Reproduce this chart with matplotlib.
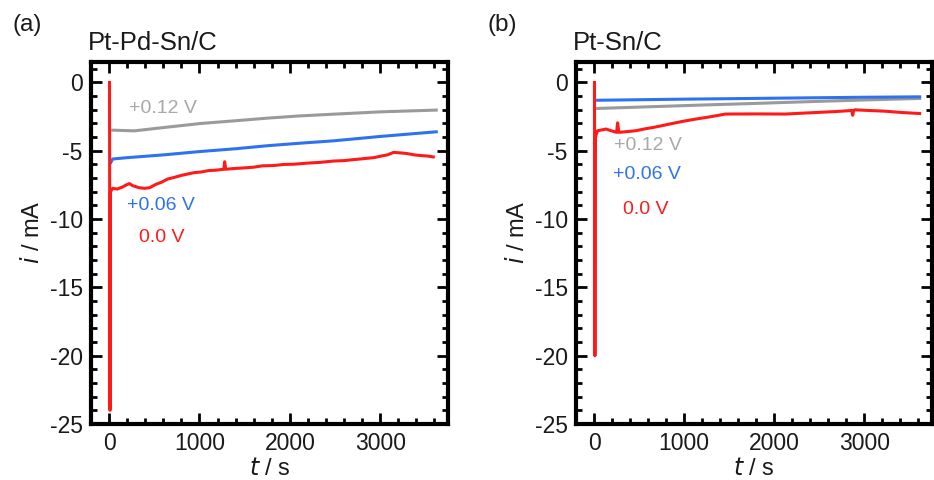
import numpy as np
import matplotlib.pyplot as plt
from matplotlib.ticker import MultipleLocator

plt.rcParams['font.family'] = ['Liberation Sans', 'DejaVu Sans']
plt.rcParams['axes.unicode_minus'] = False

# (a) Pt-Pd-Sn/C, chronoamperometry at three potentials
t_a_00 = [5, 10, 15, 40, 90, 150, 190, 225, 260, 330, 390, 450, 520, 580, 647, 720, 800, 870,
          941, 1020, 1100, 1180, 1270, 1279, 1290, 1380, 1500, 1600, 1700, 1820, 1933, 2050,
          2200, 2330, 2484, 2600, 2700, 2780, 2852, 2930, 3000, 3080, 3146, 3220, 3293, 3380,
          3450, 3520, 3587]
i_a_00 = [0.0, -24.0, -8.0, -7.75, -7.8, -7.65, -7.5, -7.4, -7.55, -7.7, -7.75, -7.7, -7.45,
          -7.3, -7.07, -6.95, -6.8, -6.7, -6.6, -6.55, -6.45, -6.42, -6.35, -5.8, -6.35, -6.3,
          -6.25, -6.2, -6.1, -6.08, -6.0, -5.98, -5.9, -5.85, -5.75, -5.72, -5.65, -5.6, -5.55,
          -5.5, -5.4, -5.3, -5.12, -5.15, -5.2, -5.3, -5.35, -5.38, -5.45]

t_a_006 = [20, 40, 206, 600, 1014, 1400, 1750, 2100, 2484, 3000, 3620]
i_a_006 = [-5.85, -5.6, -5.5, -5.3, -5.05, -4.85, -4.63, -4.45, -4.27, -3.95, -3.61]

t_a_012 = [40, 279, 600, 1014, 1400, 1750, 2100, 2484, 3000, 3620]
i_a_012 = [-3.49, -3.54, -3.3, -3.0, -2.8, -2.61, -2.45, -2.32, -2.15, -2.02]

# (b) Pt-Sn/C
t_b_00 = [5, 10, 15, 40, 133, 200, 250, 262, 275, 360, 464, 560, 650, 740, 832, 980, 1127,
          1300, 1459, 1800, 2122, 2300, 2490, 2700, 2860, 2870, 2880, 2895, 3050, 3227, 3420, 3613]
i_b_00 = [0.0, -20.0, -4.0, -3.53, -3.41, -3.55, -3.65, -2.95, -3.65, -3.6, -3.53, -3.4,
          -3.3, -3.18, -3.05, -2.85, -2.68, -2.5, -2.31, -2.3, -2.31, -2.25, -2.19, -2.12,
          -2.05, -2.4, -2.05, -2.0, -2.05, -2.1, -2.2, -2.27]

t_b_006 = [40, 1000, 2000, 3000, 3613]
i_b_006 = [-1.3, -1.22, -1.15, -1.08, -1.05]

t_b_012 = [40, 600, 1200, 1753, 2400, 3000, 3613]
i_b_012 = [-1.9, -1.78, -1.65, -1.54, -1.4, -1.28, -1.17]

red = '#ff1a1a'
blue = '#2f72ee'
gray = '#9a9a9a'

fig = plt.figure(figsize=(9.34, 4.8), dpi=100)
ax_a = fig.add_axes([91 / 934, 56 / 480, 357 / 934, 362 / 480])
ax_b = fig.add_axes([576 / 934, 56 / 480, 356 / 934, 362 / 480])

panels = [
    (ax_a, '(a)', 'Pt-Pd-Sn/C', 12, 88,
     (t_a_012, i_a_012), (t_a_006, i_a_006), (t_a_00, i_a_00),
     [(220, -1.93), (198, -9.03), (330, -11.37)]),
    (ax_b, '(b)', 'Pt-Sn/C', 488, 573,
     (t_b_012, i_b_012), (t_b_006, i_b_006), (t_b_00, i_b_00),
     [(221, -4.6), (210, -6.7), (320, -9.3)]),
]

for ax, tag, name, tag_x, name_x, s012, s006, s00, lab_pos in panels:
    ax.plot(*s012, color=gray, lw=2.2)
    ax.plot(*s006, color=blue, lw=2.2)
    ax.plot(*s00, color=red, lw=2.2)

    ax.text(*lab_pos[0], '+0.12 V', color='#a8a8a8', fontsize=14, va='center')
    ax.text(*lab_pos[1], '+0.06 V', color=blue, fontsize=14, va='center')
    ax.text(*lab_pos[2], '0.0 V', color=red, fontsize=14, va='center')

    ax.set_xlim(-200, 3750)
    ax.set_ylim(-25, 1.5)
    ax.xaxis.set_major_locator(MultipleLocator(1000))
    ax.xaxis.set_minor_locator(MultipleLocator(200))
    ax.yaxis.set_major_locator(MultipleLocator(5))
    ax.yaxis.set_minor_locator(MultipleLocator(1))
    ax.tick_params(which='both', direction='in', top=True, right=True, width=2.0,
                   labelsize=16.5, pad=6, labelcolor='#1a1a1a')
    ax.tick_params(which='major', length=8)
    ax.tick_params(which='minor', length=4.5)
    for sp in ax.spines.values():
        sp.set_linewidth(3.0)

    ax.set_xlabel('$\\it{t}$ / s', fontsize=17, labelpad=2, color='#1a1a1a')
    ax.set_ylabel('$\\it{i}$ / mA', fontsize=17, color='#1a1a1a')
    ax.yaxis.set_label_coords(-0.133, 0.53)
    fig.text(tag_x / 934, 1 - 25 / 480, tag, fontsize=17.5, va='center', color='#1a1a1a')
    fig.text(name_x / 934, 1 - 43 / 480, name, fontsize=18.5, va='center', color='#1a1a1a')

fig.savefig('out.png', dpi=100)
